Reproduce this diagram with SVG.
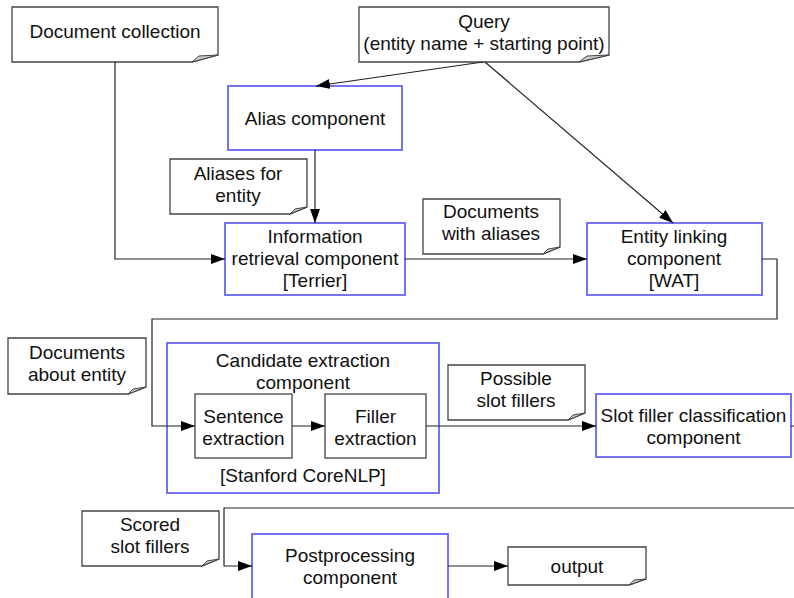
<svg xmlns="http://www.w3.org/2000/svg" width="794" height="598" viewBox="0 0 794 598">
<style>
text{font-family:"Liberation Sans",Arial,sans-serif;font-size:19px;fill:#111;text-anchor:middle}
.note{fill:#fff;stroke:#444;stroke-width:1.3}
.fold{fill:#ccc;stroke:#444;stroke-width:1}
.comp{fill:#fff;stroke:#7373f5;stroke-width:2}
.sub{fill:#fff;stroke:#444;stroke-width:1.3}
.con{fill:none;stroke:#222;stroke-width:1.2}
</style>
<defs>
<marker id="arr" markerUnits="userSpaceOnUse" markerWidth="15" markerHeight="11" refX="14" refY="5" orient="auto">
<path d="M0,0 L14,5 L0,10 z" fill="#000"/>
</marker>
</defs>
<rect width="794" height="598" fill="#fff"/>

<g id="doc-collection">
<polygon class="note" points="12,7 218,7 218,55 192,62 12,62"/>
<polygon class="fold" points="192,62 199,56 218,55"/>
<text x="115" y="38">Document collection</text>
</g>

<g id="query">
<polygon class="note" points="359,7 609,7 609,55 579,62 359,62"/>
<polygon class="fold" points="579,62 587,56 609,55"/>
<text x="484" y="28">Query</text>
<text x="484" y="50">(entity name + starting point)</text>
</g>

<g id="alias-component">
<rect class="comp" x="228" y="86" width="174" height="64"/>
<text x="315" y="125">Alias component</text>
</g>

<g id="aliases-note">
<polygon class="note" points="170,159 307,159 307,207 290,214 170,214"/>
<polygon class="fold" points="290,214 295,209 307,207"/>
<text x="238" y="180">Aliases for</text>
<text x="238" y="202">entity</text>
</g>

<g id="ir-component">
<rect class="comp" x="225" y="223" width="180" height="72"/>
<text x="315" y="243">Information</text>
<text x="315" y="265">retrieval component</text>
<text x="315" y="287">[Terrier]</text>
</g>

<g id="docs-aliases-note">
<polygon class="note" points="423,199 560,199 560,247 543,254 423,254"/>
<polygon class="fold" points="543,254 548,249 560,247"/>
<text x="491" y="218">Documents</text>
<text x="491" y="240">with aliases</text>
</g>

<g id="entity-linking">
<rect class="comp" x="587" y="223" width="175" height="72"/>
<text x="674" y="243">Entity linking</text>
<text x="674" y="265">component</text>
<text x="674" y="287">[WAT]</text>
</g>

<g id="docs-entity-note">
<polygon class="note" points="8,338 146,338 146,387 128,394 8,394"/>
<polygon class="fold" points="128,394 133,389 146,387"/>
<text x="77" y="359">Documents</text>
<text x="77" y="381">about entity</text>
</g>

<g id="candidate-extraction">
<rect class="comp" x="167" y="343" width="272" height="150"/>
<text x="303" y="367">Candidate extraction</text>
<text x="303" y="389">component</text>
<text x="303" y="482">[Stanford CoreNLP]</text>
</g>

<g id="sentence-extraction">
<rect class="sub" x="195" y="394" width="97" height="64"/>
<text x="243.5" y="423">Sentence</text>
<text x="243.5" y="445">extraction</text>
</g>

<g id="filler-extraction">
<rect class="sub" x="325" y="394" width="101" height="64"/>
<text x="375.5" y="423">Filler</text>
<text x="375.5" y="445">extraction</text>
</g>

<g id="possible-note">
<polygon class="note" points="448,365 585,365 585,413 568,420 448,420"/>
<polygon class="fold" points="568,420 573,415 585,413"/>
<text x="516" y="385">Possible</text>
<text x="516" y="407">slot fillers</text>
</g>

<g id="slot-filler">
<rect class="comp" x="596" y="394" width="195" height="63"/>
<text x="693.5" y="422">Slot filler classification</text>
<text x="693.5" y="444">component</text>
</g>

<g id="scored-note">
<polygon class="note" points="82,511 219,511 219,559 202,566 82,566"/>
<polygon class="fold" points="202,566 207,561 219,559"/>
<text x="150" y="531">Scored</text>
<text x="150" y="553">slot fillers</text>
</g>

<g id="postprocessing">
<rect class="comp" x="252" y="534" width="196" height="70"/>
<text x="350" y="562">Postprocessing</text>
<text x="350" y="584">component</text>
</g>

<g id="output">
<polygon class="note" points="508,547 646,547 646,579 629,585 508,585"/>
<polygon class="fold" points="629,585 634,580 646,579"/>
<text x="577" y="573">output</text>
</g>

<g id="connectors">
<path class="con" d="M115,62 V259 H225" marker-end="url(#arr)"/>
<path class="con" d="M483,62 L316,86" marker-end="url(#arr)"/>
<path class="con" d="M485,62 L673,223" marker-end="url(#arr)"/>
<path class="con" d="M315,150 V223" marker-end="url(#arr)"/>
<path class="con" d="M405,259 H587" marker-end="url(#arr)"/>
<path class="con" d="M762,259 H777 V319 H152 V426 H195" marker-end="url(#arr)"/>
<path class="con" d="M292,426 H325" marker-end="url(#arr)"/>
<path class="con" d="M426,426 H596" marker-end="url(#arr)"/>
<path class="con" d="M791,426 H800 V508 H224 V566 H252" marker-end="url(#arr)"/>
<path class="con" d="M448,566 H508" marker-end="url(#arr)"/>
</g>
</svg>
